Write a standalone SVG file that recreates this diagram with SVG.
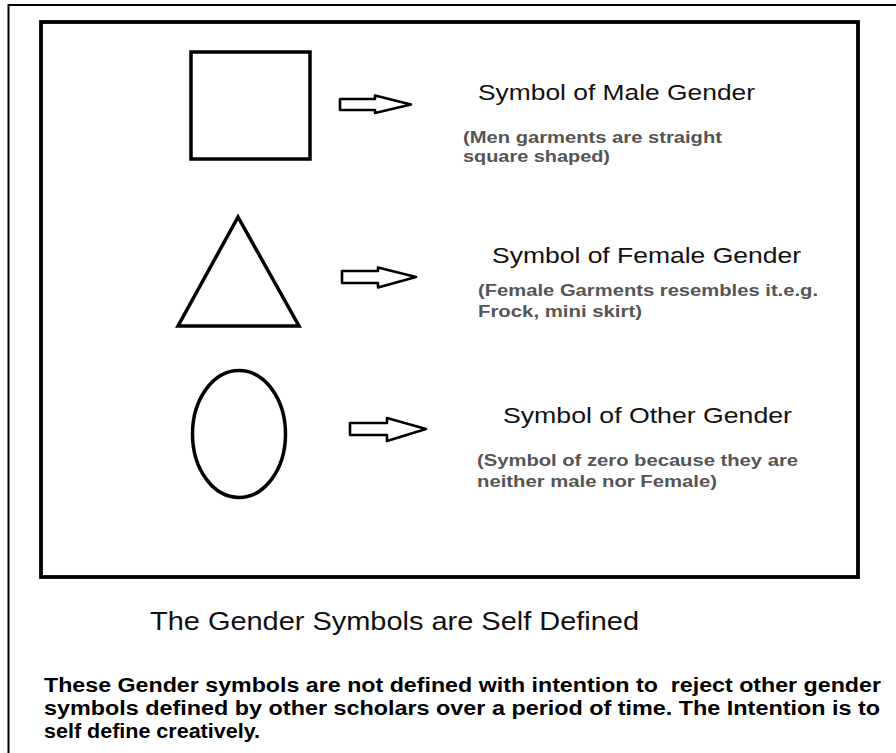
<svg xmlns="http://www.w3.org/2000/svg" width="896" height="753" viewBox="0 0 896 753">
  <style>
    .shape { fill: #ffffff; stroke: #000000; stroke-width: 3.5; stroke-linejoin: miter; }
    .arrow { fill: #ffffff; stroke: #000000; stroke-width: 2.6; stroke-linejoin: round; }
    .title { font-family: "Liberation Sans", Arial, sans-serif; font-size: 22px; fill: #111111; }
    .sub { font-family: "Liberation Sans", Arial, sans-serif; font-size: 16px; font-weight: bold; fill: #555555; }
    .caption { font-family: "Liberation Sans", Arial, sans-serif; font-size: 26px; fill: #111111; }
    .note { font-family: "Liberation Sans", Arial, sans-serif; font-size: 20px; font-weight: bold; fill: #000000; }
  </style>
  <rect x="0" y="0" width="896" height="753" fill="#ffffff"/>
  <g id="frame">
    <path d="M896,5 H8.5 V753" fill="none" stroke="#000000" stroke-width="2"/>
    <rect x="41" y="22" width="817" height="555" fill="none" stroke="#000000" stroke-width="3.8"/>
  </g>
  <g id="male">
    <rect class="shape" x="191" y="52" width="119" height="107"/>
    <text class="title" x="478" y="100" textLength="277" lengthAdjust="spacingAndGlyphs">Symbol of Male Gender</text>
    <text class="sub" x="463" y="143" textLength="259" lengthAdjust="spacingAndGlyphs">(Men garments are straight</text>
    <text class="sub" x="463" y="162" textLength="147" lengthAdjust="spacingAndGlyphs">square shaped)</text>
  </g>
  <g id="female">
    <polygon class="shape" points="238,217 299,326 178,326"/>
    <text class="title" x="492" y="263" textLength="309" lengthAdjust="spacingAndGlyphs">Symbol of Female Gender</text>
    <text class="sub" x="478" y="296" textLength="340" lengthAdjust="spacingAndGlyphs">(Female Garments resembles it.e.g.</text>
    <text class="sub" x="478" y="317" textLength="164" lengthAdjust="spacingAndGlyphs">Frock, mini skirt)</text>
  </g>
  <g id="other">
    <ellipse class="shape" cx="239" cy="434" rx="46.5" ry="63.5"/>
    <text class="title" x="503" y="423" textLength="289" lengthAdjust="spacingAndGlyphs">Symbol of Other Gender</text>
    <text class="sub" x="477" y="466" textLength="321" lengthAdjust="spacingAndGlyphs">(Symbol of zero because they are</text>
    <text class="sub" x="477" y="487" textLength="240" lengthAdjust="spacingAndGlyphs">neither male nor Female)</text>
  </g>
  <g id="connectors">
    <path class="arrow" d="M340,99 H375 V95.5 L411,104.5 L375,113 V110 H340 Z"/>
    <path class="arrow" d="M342,271 H378 V267.5 L416,277 L378,287.5 V283 H342 Z"/>
    <path class="arrow" d="M350,423 H387 V418 L426,429 L387,441 V435 H350 Z"/>
  </g>
  <g id="footer">
    <text class="caption" x="150" y="630" textLength="489" lengthAdjust="spacingAndGlyphs">The Gender Symbols are Self Defined</text>
    <text class="note" x="44" y="692" xml:space="preserve" textLength="837" lengthAdjust="spacingAndGlyphs">These Gender symbols are not defined with intention to  reject other gender</text>
    <text class="note" x="44" y="715" textLength="836" lengthAdjust="spacingAndGlyphs">symbols defined by other scholars over a period of time. The Intention is to</text>
    <text class="note" x="44" y="738" textLength="216" lengthAdjust="spacingAndGlyphs">self define creatively.</text>
  </g>
</svg>
